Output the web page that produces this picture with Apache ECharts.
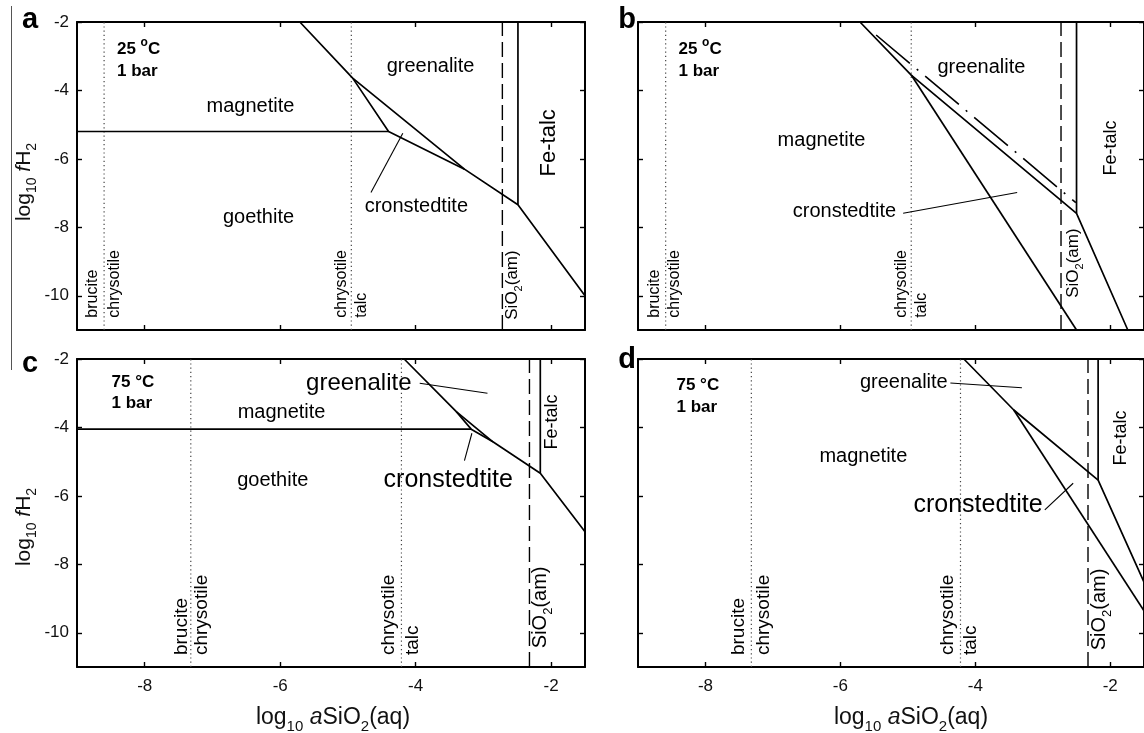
<!DOCTYPE html>
<html>
<head>
<meta charset="UTF-8">
<title>Fe-Si phase diagrams</title>
<script src="https://cdn.jsdelivr.net/npm/echarts@6.0.0/dist/echarts.min.js"></script>
<style>
  html, body { margin: 0; padding: 0; background: #fff; }
  #chart { width: 1144px; height: 733px; }
</style>
</head>
<body>
<div id="chart"></div>
<script type="text/javascript">
// axes
var xRange = [-9, -1.5];
var yRange = [-11, -2];
var xTicks = [-8, -6, -4, -2];
var yTicks = [-10, -8, -6, -4, -2];

// panel a : 25 C, 1 bar
var aMagGoethite = [[-9, -5.2], [-4.4, -5.2]];
var aUpper = [[-5.71, -2], [-4.93, -3.64], [-3.28, -6.3], [-2.49, -7.34], [-1.5, -10]];
var aCron = [[-4.93, -3.64], [-4.4, -5.2], [-3.28, -6.3]];
var aFeTalc = [[-2.49, -2], [-2.49, -7.34]];
var aSiO2 = -2.72, aBrucite = -8.6, aTalc = -4.95;

// panel b : 25 C, 1 bar
var bUpper = [[-5.71, -2], [-4.95, -3.55], [-2.5, -7.59], [-1.74, -11]];
var bLower = [[-4.95, -3.55], [-2.5, -11]];
var bDashDot = [[-5.47, -2.38], [-2.51, -7.28]];
var bFeTalc = [[-2.5, -2], [-2.5, -7.59]];
var bSiO2 = -2.73, bBrucite = -8.59, bTalc = -4.95;

// panel c : 75 C, 1 bar
var cMagGoethite = [[-9, -4.05], [-3.18, -4.05]];
var cUpper = [[-4.17, -2], [-3.4, -3.54], [-2.86, -4.42], [-2.16, -5.34], [-1.5, -7.05]];
var cCron = [[-3.4, -3.54], [-3.18, -4.05], [-2.86, -4.42]];
var cFeTalc = [[-2.16, -2], [-2.16, -5.34]];
var cSiO2 = -2.32, cBrucite = -7.32, cTalc = -4.21;

// panel d : 75 C, 1 bar
var dUpper = [[-4.17, -2], [-3.43, -3.49], [-2.18, -5.54], [-1.5, -8.52]];
var dLower = [[-3.43, -3.49], [-1.5, -9.36]];
var dFeTalc = [[-2.18, -2], [-2.18, -5.54]];
var dSiO2 = -2.33, dBrucite = -7.32, dTalc = -4.22;

var FONT = '"Liberation Sans", Arial, sans-serif';
var INK = '#000';

var grids = [
    { left: 77, top: 22, width: 508, height: 308 },
    { left: 638, top: 22, width: 510, height: 308 },
    { left: 77, top: 359, width: 508, height: 308 },
    { left: 638, top: 359, width: 510, height: 308 }
];

var xAxes = [], yAxes = [];
function makeAxes(g, xLabels, yLabels) {
    var line = { show: true, onZero: false, lineStyle: { color: '#000', width: 2 } };
    var tickX = { show: true, inside: true, length: 5, customValues: xTicks, lineStyle: { color: '#000', width: 1.4 } };
    var tickY = { show: true, inside: true, length: 5, customValues: yTicks, lineStyle: { color: '#000', width: 1.4 } };
    ['bottom', 'top'].forEach(function (pos) {
        xAxes.push({
            type: 'value', gridIndex: g, position: pos, min: xRange[0], max: xRange[1],
            axisLine: line, axisTick: tickX, splitLine: { show: false },
            axisLabel: { show: xLabels && pos === 'bottom', customValues: xTicks, fontSize: 17, fontFamily: FONT, color: '#111', margin: 11 }
        });
    });
    ['left', 'right'].forEach(function (pos) {
        yAxes.push({
            type: 'value', gridIndex: g, position: pos, min: yRange[0], max: yRange[1],
            axisLine: line, axisTick: tickY, splitLine: { show: false },
            axisLabel: { show: yLabels && pos === 'left', customValues: yTicks, fontSize: 17, fontFamily: FONT, color: '#111', margin: 8 }
        });
    });
}
makeAxes(0, false, true);
makeAxes(1, false, false);
makeAxes(2, true, true);
makeAxes(3, true, false);

var series = [];
function path(g, data, width, dash, color) {
    series.push({
        type: 'line', xAxisIndex: g * 2, yAxisIndex: g * 2, data: data,
        symbol: 'none', silent: true, animation: false,
        lineStyle: { color: color || '#000', width: width, type: dash || 'solid' }
    });
}
function vline(g, x, width, dash, color) {
    path(g, [[x, yRange[0]], [x, yRange[1]]], width, dash, color);
}

var rich = {
    n: { fontSize: 17, fontFamily: FONT, color: INK, lineHeight: 24 },
    m: { fontSize: 20, fontFamily: FONT, color: INK, lineHeight: 28 },
    s: { fontSize: 11, fontFamily: FONT, color: INK, lineHeight: 12, verticalAlign: 'bottom' },
    t: { fontSize: 13, fontFamily: FONT, color: INK, lineHeight: 14, verticalAlign: 'bottom' },
    b: { fontSize: 17, fontFamily: FONT, color: INK, fontWeight: 'bold', lineHeight: 24 },
    o: { fontSize: 12, fontFamily: FONT, color: INK, fontWeight: 'bold', lineHeight: 12, verticalAlign: 'top' }
};
function lab(x, y, text, size, opt) {
    opt = opt || {};
    return {
        value: [x, y],
        label: {
            show: true, position: [0, 0], formatter: text,
            fontSize: size, fontFamily: FONT, color: INK, opacity: 1,
            textBorderWidth: 0,
            fontWeight: opt.bold ? 'bold' : 'normal',
            rotate: opt.rot || 0,
            align: opt.align || 'center', verticalAlign: 'middle',
            rich: rich
        }
    };
}
function labels(g, items) {
    series.push({
        type: 'scatter', xAxisIndex: g * 2, yAxisIndex: g * 2, data: items,
        symbolSize: 0, itemStyle: { color: '#000' }, silent: true, animation: false, z: 5
    });
}
var UP = { rot: 90, align: 'left' };
var UPC = { rot: 90 };
var BOLD = { bold: true, align: 'left' };

// ---- panel a
vline(0, aBrucite, 1.2, [1.2, 3], '#444');
vline(0, aTalc, 1.2, [1.2, 3], '#444');
vline(0, aSiO2, 1.4, [15, 6]);
path(0, aMagGoethite, 1.7);
path(0, aUpper, 1.7);
path(0, aCron, 1.7);
path(0, aFeTalc, 1.7);
path(0, [[-4.66, -6.98], [-4.19, -5.25]], 1.1);
labels(0, [
    lab(-8.41, -2.79, '{b|25 }{o|o}{b|C}', 17, BOLD),
    lab(-8.41, -3.43, '1 bar', 17, BOLD),
    lab(-6.44, -4.48, 'magnetite', 20),
    lab(-6.32, -7.72, 'goethite', 20),
    lab(-3.78, -3.31, 'greenalite', 20),
    lab(-3.99, -7.4, 'cronstedtite', 20),
    lab(-2.03, -5.53, 'Fe-talc', 22, UPC),
    lab(-8.77, -10.64, 'brucite', 16, UP),
    lab(-8.44, -10.64, 'chrysotile', 16, UP),
    lab(-5.1, -10.64, 'chrysotile', 16, UP),
    lab(-4.8, -10.64, 'talc', 16, UP),
    lab(-2.57, -10.7, '{n|SiO}{s|2}{n|(am)}', 17, UP)
]);

// ---- panel b
vline(1, bBrucite, 1.2, [1.2, 3], '#444');
vline(1, bTalc, 1.2, [1.2, 3], '#444');
vline(1, bSiO2, 1.4, [15, 6]);
path(1, bUpper, 1.7);
path(1, bLower, 1.7);
path(1, bFeTalc, 1.7);
path(1, bDashDot, 1.6, [44, 9, 2, 9]);
path(1, [[-5.07, -7.59], [-3.38, -6.98]], 1.1);
labels(1, [
    lab(-8.4, -2.79, '{b|25 }{o|o}{b|C}', 17, BOLD),
    lab(-8.4, -3.43, '1 bar', 17, BOLD),
    lab(-6.28, -5.45, 'magnetite', 20),
    lab(-3.91, -3.34, 'greenalite', 20),
    lab(-5.94, -7.55, 'cronstedtite', 20),
    lab(-1.99, -5.68, 'Fe-talc', 18, UPC),
    lab(-8.76, -10.64, 'brucite', 16, UP),
    lab(-8.46, -10.64, 'chrysotile', 16, UP),
    lab(-5.1, -10.64, 'chrysotile', 16, UP),
    lab(-4.8, -10.64, 'talc', 16, UP),
    lab(-2.55, -10.06, '{n|SiO}{s|2}{n|(am)}', 17, UP)
]);

// ---- panel c
vline(2, cBrucite, 1.2, [1.2, 3], '#444');
vline(2, cTalc, 1.2, [1.2, 3], '#444');
vline(2, cSiO2, 1.4, [15, 6]);
path(2, cMagGoethite, 1.7);
path(2, cUpper, 1.7);
path(2, cCron, 1.7);
path(2, cFeTalc, 1.7);
path(2, [[-3.94, -2.71], [-2.94, -3.0]], 1.1);
path(2, [[-3.28, -4.97], [-3.17, -4.17]], 1.1);
labels(2, [
    lab(-8.49, -2.67, '75 °C', 17, BOLD),
    lab(-8.49, -3.29, '1 bar', 17, BOLD),
    lab(-5.98, -3.55, 'magnetite', 20),
    lab(-6.11, -5.54, 'goethite', 20),
    lab(-4.84, -2.7, 'greenalite', 24),
    lab(-3.52, -5.54, 'cronstedtite', 25),
    lab(-1.99, -3.84, 'Fe-talc', 18, UPC),
    lab(-7.45, -10.65, 'brucite', 19, UP),
    lab(-7.16, -10.65, 'chrysotile', 19, UP),
    lab(-4.39, -10.65, 'chrysotile', 19, UP),
    lab(-4.04, -10.65, 'talc', 19, UP),
    lab(-2.15, -10.45, '{m|SiO}{t|2}{m|(am)}', 20, UP)
]);

// ---- panel d
vline(3, dBrucite, 1.2, [1.2, 3], '#444');
vline(3, dTalc, 1.2, [1.2, 3], '#444');
vline(3, dSiO2, 1.4, [15, 6]);
path(3, dUpper, 1.7);
path(3, dLower, 1.7);
path(3, dFeTalc, 1.7);
path(3, [[-4.37, -2.7], [-3.31, -2.84]], 1.1);
path(3, [[-2.97, -6.41], [-2.55, -5.63]], 1.1);
labels(3, [
    lab(-8.43, -2.76, '75 °C', 17, BOLD),
    lab(-8.43, -3.4, '1 bar', 17, BOLD),
    lab(-5.06, -2.7, 'greenalite', 20),
    lab(-5.66, -4.86, 'magnetite', 20),
    lab(-3.96, -6.27, 'cronstedtite', 25),
    lab(-1.84, -4.31, 'Fe-talc', 18, UPC),
    lab(-7.5, -10.65, 'brucite', 19, UP),
    lab(-7.13, -10.65, 'chrysotile', 19, UP),
    lab(-4.41, -10.65, 'chrysotile', 19, UP),
    lab(-4.07, -10.65, 'talc', 19, UP),
    lab(-2.16, -10.51, '{m|SiO}{t|2}{m|(am)}', 20, UP)
]);

var yRich = {
    n: { fontSize: 21, fontFamily: FONT, fill: '#111', lineHeight: 30 },
    i: { fontSize: 21, fontFamily: FONT, fill: '#111', fontStyle: 'italic', lineHeight: 30 },
    s: { fontSize: 14, fontFamily: FONT, fill: '#111', lineHeight: 14, verticalAlign: 'bottom' }
};
var xRich = {
    n: { fontSize: 23, fontFamily: FONT, fill: '#111', lineHeight: 32 },
    i: { fontSize: 23, fontFamily: FONT, fill: '#111', fontStyle: 'italic', lineHeight: 32 },
    s: { fontSize: 15, fontFamily: FONT, fill: '#111', lineHeight: 15, verticalAlign: 'bottom' }
};
var yTitle = '{n|log}{s|10}{n| }{i|f}{n|H}{s|2}';
var xTitle = '{n|log}{s|10}{n| }{i|a}{n|SiO}{s|2}{n|(aq)}';
function gText(x, y, text, richStyle, rot) {
    return {
        type: 'text', x: x, y: y, rotation: rot || 0, silent: true,
        style: { text: text, rich: richStyle, align: 'center', verticalAlign: 'middle', fill: '#111' }
    };
}
function letter(x, y, ch) {
    return {
        type: 'text', x: x, y: y, silent: true,
        style: { text: ch, font: 'bold 29px ' + FONT, fill: '#000', align: 'center', verticalAlign: 'middle' }
    };
}

var chart = echarts.init(document.getElementById('chart'), null, { renderer: 'canvas' });
chart.setOption({
    animation: false,
    backgroundColor: '#fff',
    grid: grids,
    xAxis: xAxes,
    yAxis: yAxes,
    series: series,
    graphic: [
        { type: 'line', silent: true, shape: { x1: 11.5, y1: 6, x2: 11.5, y2: 370 }, style: { stroke: '#555', lineWidth: 1 } },
        letter(30, 20, 'a'),
        letter(627, 20, 'b'),
        letter(30, 364, 'c'),
        letter(627, 360, 'd'),
        gText(24, 182, yTitle, yRich, Math.PI / 2),
        gText(24, 527, yTitle, yRich, Math.PI / 2),
        gText(333, 718, xTitle, xRich),
        gText(911, 718, xTitle, xRich)
    ]
});
</script>
</body>
</html>
